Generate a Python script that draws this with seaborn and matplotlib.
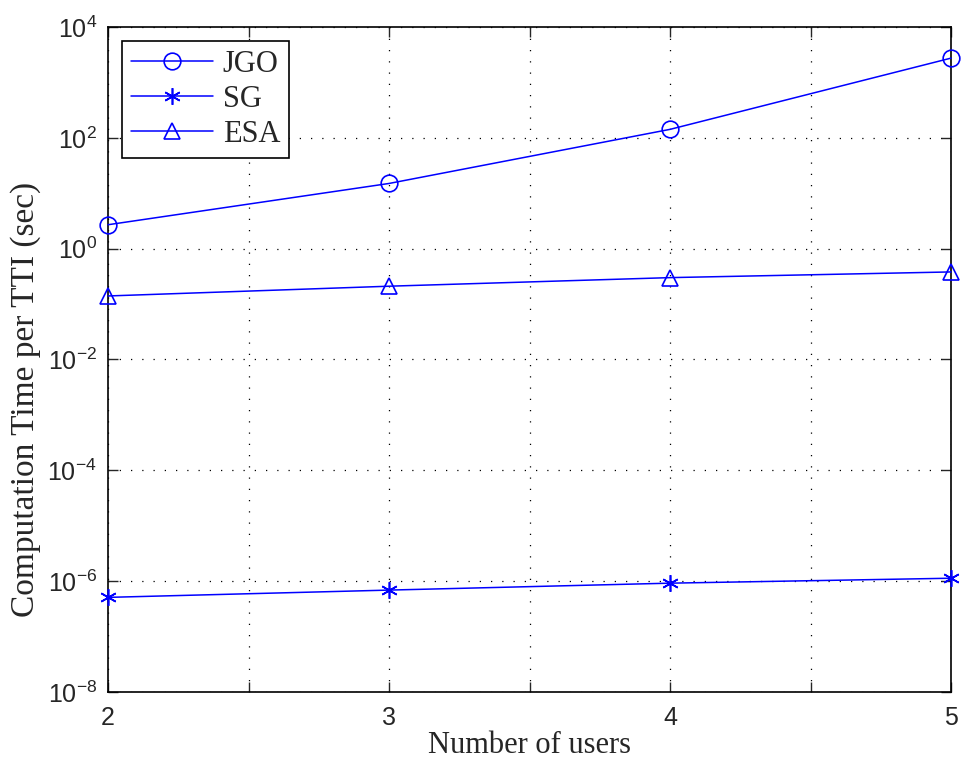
import matplotlib
matplotlib.use("Agg")
import matplotlib.pyplot as plt
import seaborn as sns
import pandas as pd

users = [2, 3, 4, 5]
jgo = [2.7, 15, 142, 2740]
sg = [5.1e-7, 6.9e-7, 9.2e-7, 1.13e-6]
esa = [0.14, 0.21, 0.30, 0.38]

sns.set_style("ticks")

fig = plt.figure(figsize=(9.61, 7.66), dpi=100)
ax = fig.add_axes([0.1124, 0.0966, 0.8772, 0.8682])

series = [("JGO", jgo, "o"), ("SG", sg, (6, 2, 0)), ("ESA", esa, "^")]
for name, vals, mk in series:
    df = pd.DataFrame({"users": users, "time": vals})
    sns.lineplot(data=df, x="users", y="time", ax=ax, color="blue", lw=1.1,
                 marker=mk, markersize=12, markerfacecolor="none",
                 markeredgecolor="blue", markeredgewidth=1.2, label=name,
                 clip_on=False, zorder=5)

ax.set_yscale("log")
ax.set_xlim(2, 5)
ax.set_ylim(1e-8, 1e4)
ax.set_xticks(users)
ax.set_xticks([2.5, 3.5, 4.5], minor=True)
ax.set_yticks([10.0 ** k for k in range(-8, 5, 2)])
ax.yaxis.set_minor_locator(matplotlib.ticker.NullLocator())
ax.tick_params(which="both", direction="in", length=7, width=1, labelsize=18,
               top=True, right=True)
ax.tick_params(axis="x", pad=10)
ax.tick_params(axis="y", pad=8)
ax.grid(True, which="both", linestyle=(0, (1, 8)), color="black", lw=0.9)
for s in ax.spines.values():
    s.set_linewidth(1.2)
    s.set_color("black")

for lab in ax.get_xticklabels() + ax.get_yticklabels():
    lab.set_family(["Liberation Sans", "DejaVu Sans"])

ax.set_xlabel("Number of users", family="Liberation Serif", fontsize=22, labelpad=1)
ax.set_ylabel("Computation Time per TTI (sec)", family="Liberation Serif",
              fontsize=24)
ax.yaxis.set_label_coords(-0.08, 0.44)

leg = ax.legend(loc="upper left", prop={"family": "Liberation Serif", "size": 22},
                frameon=True, fancybox=False, edgecolor="black", framealpha=1,
                handlelength=2.7, borderpad=0.3, labelspacing=0.2,
                handletextpad=0.3, borderaxespad=0.45)
leg.get_frame().set_linewidth(1.2)

fig.savefig("out.png", dpi=100)
